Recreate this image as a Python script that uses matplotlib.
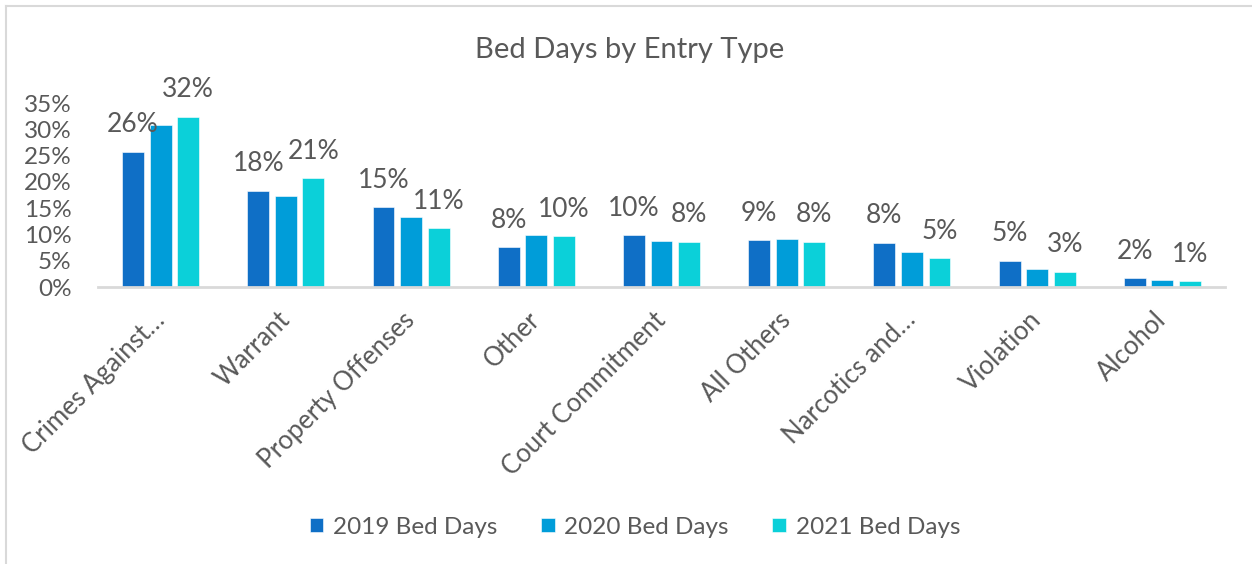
import matplotlib
matplotlib.use("Agg")
import matplotlib.pyplot as plt
import numpy as np
from matplotlib.lines import Line2D

categories = ["Crimes Against…", "Warrant", "Property Offenses", "Other",
              "Court Commitment", "All Others", "Narcotics and…", "Violation", "Alcohol"]
series_names = ["2019 Bed Days", "2020 Bed Days", "2021 Bed Days"]
v2019 = [25.7, 18.3, 15.2, 7.6, 9.8, 8.9, 8.4, 5.0, 1.7]
v2020 = [30.9, 17.3, 13.4, 9.8, 8.7, 9.1, 6.7, 3.4, 1.3]
v2021 = [32.4, 20.7, 11.2, 9.7, 8.6, 8.6, 5.5, 2.9, 1.1]
labels2019 = ["26%", "18%", "15%", "8%", "10%", "9%", "8%", "5%", "2%"]
labels2021 = ["32%", "21%", "11%", "10%", "8%", "8%", "5%", "3%", "1%"]
yticks = [0, 5, 10, 15, 20, 25, 30, 35]

colors = ["#0F6FC6", "#009DD9", "#0BD0D9"]
text_color = "#595959"
grid_color = "#D9D9D9"
plt.rcParams['font.family'] = ['Lato', 'DejaVu Sans']

W, H = 1252, 564
fig = plt.figure(figsize=(W / 100, H / 100), dpi=100)
ax = fig.add_axes([98 / W, 1 - 287 / H, (1225 - 98) / W, (287 - 103) / H])

x = np.arange(len(categories))
step = 0.22
width = 0.175
all_vals = [v2019, v2020, v2021]
for i, (vals, c, name) in enumerate(zip(all_vals, colors, series_names)):
    ax.bar(x + (i - 1) * step, vals, width=width, color=c, label=name,
           edgecolor="white", linewidth=0.4, zorder=3)

for xi, v, lab in zip(x - step, v2019, labels2019):
    ax.annotate(lab, (xi, v), xytext=(0, 14), textcoords="offset points",
                ha="center", va="baseline", fontsize=19, color=text_color)
for xi, v, lab in zip(x + step, v2021, labels2021):
    ax.annotate(lab, (xi, v), xytext=(0, 14), textcoords="offset points",
                ha="center", va="baseline", fontsize=19, color=text_color)

ax.set_xlim(-0.5, len(categories) - 0.5)
ax.set_ylim(0, 35)
ax.set_yticks(yticks)
ax.set_yticklabels([f"{t}%" for t in yticks], fontsize=17.5, color=text_color)
ax.set_xticks(x)
ax.set_xticklabels(categories, rotation=45, ha="right", va="center",
                   rotation_mode="anchor", fontsize=18.5, color=text_color)
ax.tick_params(axis="both", length=0)
ax.tick_params(axis="y", pad=19)
ax.tick_params(axis="x", pad=21)
for s in ["top", "right", "left"]:
    ax.spines[s].set_visible(False)
ax.spines["bottom"].set_color(grid_color)
ax.spines["bottom"].set_linewidth(2)
ax.spines["bottom"].set_zorder(4)

fig.text(630 / W, 1 - 50 / H, "Bed Days by Entry Type", ha="center", va="center",
         fontsize=21, color=text_color)

leg = fig.legend(loc="center", bbox_to_anchor=(635 / W, 1 - 527 / H), ncol=3,
                 frameon=False, fontsize=17.5, handlelength=0.55, handleheight=0.55,
                 handletextpad=0.4, columnspacing=1.8, labelcolor=text_color)

fig.add_artist(Line2D([5.5 / W, 5.5 / W], [0, 1 - 6 / H], transform=fig.transFigure,
                      color=grid_color, linewidth=1.5))
fig.add_artist(Line2D([5.5 / W, 1], [1 - 6 / H, 1 - 6 / H], transform=fig.transFigure,
                      color=grid_color, linewidth=1.5))

fig.savefig("out.png", dpi=100, facecolor="white")
